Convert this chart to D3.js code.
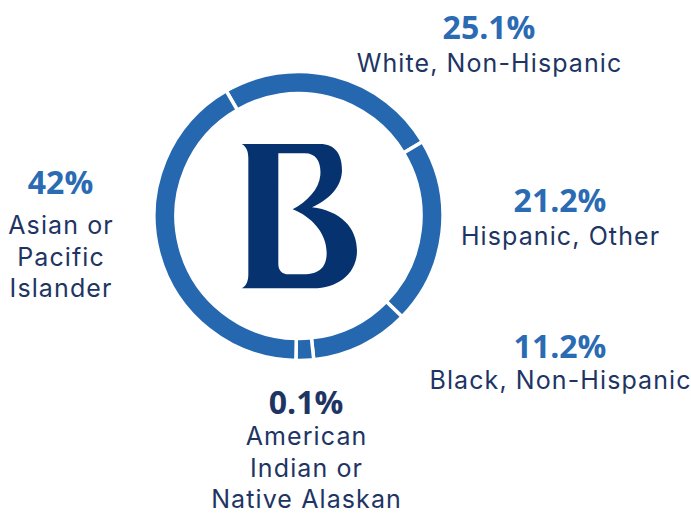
<!DOCTYPE html>
<html><head><meta charset="utf-8">
<script src="https://cdn.jsdelivr.net/npm/d3@7"></script>
<style>html,body{margin:0;padding:0;background:#fff;}svg{display:block;}</style>
</head><body>
<svg id="chart" width="691" height="514"></svg>
<script>
const categories = ["White, Non-Hispanic","Hispanic, Other","Black, Non-Hispanic","American Indian or Native Alaskan","Asian or Pacific Islander"];
const values = [25.1, 21.2, 11.2, 0.1, 42];
const pctLabels = ["25.1%","21.2%","11.2%","0.1%","42%"];
const labelLines = [["White, Non-Hispanic"],["Hispanic, Other"],["Black, Non-Hispanic"],["American","Indian or","Native Alaskan"],["Asian or","Pacific","Islander"]];
const minShown = 2; // smallest slice is drawn with a minimum visible size

const svg = d3.select("#chart");
const cx = 298.5, cy = 216, rOuter = 144.5, rInner = 122.5;
const ring = "#2568B0", pctBlue = "#2A6BB3", navy = "#1E3564", logo = "#06336F";

const pie = d3.pie().sort(null).value(d => Math.max(d, minShown))
  .startAngle(-30 * Math.PI / 180).endAngle(330 * Math.PI / 180);
const arcs = pie(values);
const arc = d3.arc().innerRadius(rInner).outerRadius(rOuter);

const g = svg.append("g").attr("transform", `translate(${cx},${cy})`);
g.selectAll("path.slice").data(arcs).join("path").attr("class","slice")
  .attr("d", arc).attr("fill", ring).attr("stroke", "#fff").attr("stroke-width", 3.5);

// Logo "B"
const outer = "M65,72 L300,72 C345,72 366,102 366,150 C366,198 330,238 276,262 C360,272 411,322 411,392 C411,462 352,505 280,505 L65,505 C80,497 85,482 85,462 L85,115 C85,95 80,80 65,72 Z";
const counter = "M175,100 L255,100 C290,100 304,128 301,166 C297,208 262,245 218,268 C275,290 320,340 320,398 C320,440 300,463 250,463 L205,463 C186,463 175,451 175,432 Z";
svg.append("path").attr("d", outer + " " + counter).attr("fill-rule","evenodd")
  .attr("fill", logo).attr("transform","translate(220,120) scale(0.3333)");

// Labels
const labelPos = [
  {x:489, y:38.5, pctColor:pctBlue, lineY:[71.5]},
  {x:560, y:211.5, pctColor:pctBlue, lineY:[245]},
  {x:560, y:357.5, pctColor:pctBlue, lineY:[388.5]},
  {x:306, y:413.5, pctColor:navy, lineY:[445,476.5,508]},
  {x:60.5, y:193.5, pctColor:pctBlue, lineY:[234,265.5,297]}
];
const pctFont = "'Open Sans', 'Noto Sans', sans-serif";
const font = "Inter, 'Open Sans', sans-serif";
const ls = 1.1;
const lg = svg.append("g");
categories.forEach((c, i) => {
  const p = labelPos[i];
  lg.append("text").attr("x", p.x).attr("y", p.y).attr("text-anchor","middle")
    .attr("font-family", pctFont).attr("font-weight", 700).attr("font-size", 32)
    .attr("fill", p.pctColor).text(pctLabels[i]);
  labelLines[i].forEach((t, j) => {
    lg.append("text").attr("x", p.x + ls / 2).attr("y", p.lineY[j]).attr("text-anchor","middle")
      .attr("font-family", font).attr("font-weight", 400).attr("font-size", 25)
      .attr("letter-spacing", ls)
      .attr("fill", navy).text(t);
  });
});
</script>
</body></html>
